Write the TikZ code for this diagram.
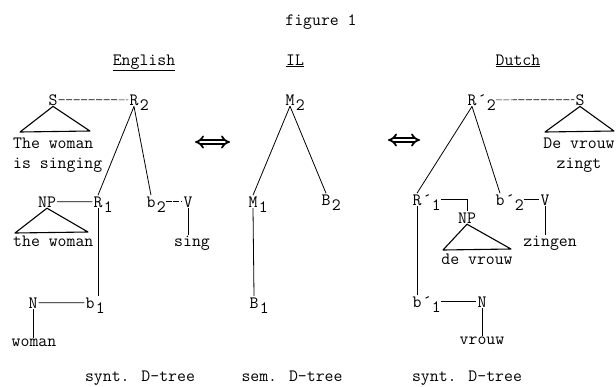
\documentclass[tikz,border=0pt]{standalone}
\usepackage{fontspec}
\usepackage{tikz}
\usetikzlibrary{arrows.meta}
\newcommand{\lo}[1]{\raisebox{-5pt}{#1}}
\tikzset{
  dt_n/.style = {inner sep=1pt, anchor=base,
    font=\ttfamily\fontsize{17.3}{20}\selectfont},% letter of a D-tree
  dt_i/.style = {dt_n, inner sep=0pt, anchor=base west},% index after a letter
  dt_w/.style = {dt_n, inner sep=0pt, align=left},% words
  dt_l/.style = {line width=0.8pt},
  dt_d/.style = {line width=0.6pt, dash pattern=on 6pt off 1.5pt},
  dt_tri/.style = {line width=1.1pt, line join=round},
  dt_eq/.style = {line width=1.8pt, double, double distance=2.4pt,
    {Implies}-{Implies}}
}
\begin{document}
\begin{tikzpicture}[x=1pt,y=-1pt]
  \useasboundingbox (0,0) rectangle (616,386);
  % titles
  \node[dt_n] (fig) at (321,25) {figure 1};
  \node[dt_n] (h_en) at (144,65) {\underline{English}};
  \node[dt_n] (h_il) at (295,65) {\underline{IL}};
  \node[dt_n] (h_du) at (518,65) {\underline{Dutch}};
  % English
  \node[dt_n] (S_e) at (53,105) {S};
  \node[dt_n] (R2_e) at (134,105) {R};
  \node[dt_i] (R2_ei) at (R2_e.base east) {\lo{2}};
  % base of a two-line node is on its last line
  \node[dt_w, anchor=base west] (S_ew) at (13,168) {The woman\\is singing};
  \coordinate (S_el) at (20,132);
  \coordinate (S_er) at (90,131);
  \node[dt_n] (R1_e) at (98,207) {R};
  \node[dt_i] (R1_ei) at (R1_e.base east) {\lo{1}};
  \node[dt_n] (b2_e) at (151,207) {b};
  \node[dt_i] (b2_ei) at (b2_e.base east) {\lo{2}};
  \node[dt_n] (V_e) at (188,207) {V};
  \node[dt_w] (V_ew) at (192,246) {sing};
  \node[dt_n] (NP_e) at (47,207) {NP};
  \coordinate (NP_el) at (15,233);
  \coordinate (NP_er) at (88,232);
  \node[dt_w, anchor=base west] (NP_ew) at (13,246) {the woman};
  \node[dt_n] (b1_e) at (90,308) {b};
  \node[dt_i] (b1_ei) at (b1_e.base east) {\lo{1}};
  \node[dt_n] (N_e) at (33,308) {N};
  \node[dt_w] (N_ew) at (34,346) {woman};
  \node[dt_w] (t_en) at (140,381) {synt. D-tree};
  \draw[dt_d] (S_e) -- (R2_e);
  \draw[dt_tri] (S_e.south) -- (S_el) -- (S_er) -- cycle;
  \draw[dt_l] (R2_e.south) -- (R1_e.north);
  \draw[dt_l] (R2_e.south) -- (b2_e.north);
  \draw[dt_d] (b2_ei.east |- V_e.west) -- (V_e.west);
  \draw[dt_l] (V_e.south) -- (V_e.south |- V_ew.north);
  \draw[dt_l] (NP_e) -- (R1_e);
  \draw[dt_tri] (NP_e.south) -- (NP_el) -- (NP_er) -- cycle;
  \draw[dt_l] (R1_e.south) -- (R1_e.south |- b1_e.north);
  \draw[dt_l] (N_e) -- (b1_e);
  \draw[dt_l] (N_e.south) -- (N_e.south |- N_ew.north);
  % IL
  \node[dt_n] (M2_il) at (290,105) {M};
  \node[dt_i] (M2_ili) at (M2_il.base east) {\lo{2}};
  \node[dt_n] (M1_il) at (253,207) {M};
  \node[dt_i] (M1_ili) at (M1_il.base east) {\lo{1}};
  \node[dt_n] (B2_il) at (326,205) {B};
  \node[dt_i] (B2_ili) at (B2_il.base east) {\lo{2}};
  \node[dt_n] (B1_il) at (254,308) {B};
  \node[dt_i] (B1_ili) at (B1_il.base east) {\lo{1}};
  \node[dt_w] (t_il) at (292,381) {sem. D-tree};
  \draw[dt_l] (M2_il.south) -- (M1_il.north);
  \draw[dt_l] (M2_il.south) -- (B2_il.north);
  \draw[dt_l] (M1_il.south) -- (B1_il.north);
  % translation arrows
  \coordinate (eq1_l) at (195,142);
  \coordinate (eq1_r) at (230,142);
  \coordinate (eq2_l) at (388,140);
  \coordinate (eq2_r) at (420,140);
  \draw[dt_eq] (eq1_l) -- (eq1_r);
  \draw[dt_eq] (eq2_l) -- (eq2_r);
  % Dutch
  \node[dt_n] (R2_d) at (472,105) {R};
  \node[dt_i] (R2_di) at (R2_d.base east) {´\lo{2}};
  \node[dt_n] (S_d) at (580,105) {S};
  \node[dt_w, align=center] (S_dw) at (579,168) {De vrouw\\zingt};
  \coordinate (S_dl) at (545,132);
  \coordinate (S_dr) at (614,131);
  \node[dt_n] (R1_d) at (417,205) {R};
  \node[dt_i] (R1_di) at (R1_d.base east) {´\lo{1}};
  \node[dt_n] (NP_d) at (467,223) {NP};
  \coordinate (NP_dl) at (443,250);
  \coordinate (NP_dr) at (511,249);
  \node[dt_w] (NP_dw) at (477,264) {de vrouw};
  \node[dt_n] (b1_d) at (417,307) {b};
  \node[dt_i] (b1_di) at (b1_d.base east) {´\lo{1}};
  \node[dt_n] (N_d) at (482,307) {N};
  \node[dt_w] (N_dw) at (482,344) {vrouw};
  \node[dt_n] (b2_d) at (500,205) {b};
  \node[dt_i] (b2_di) at (b2_d.base east) {´\lo{2}};
  \node[dt_n] (V_d) at (545,205) {V};
  \node[dt_w] (V_dw) at (550,246) {zingen};
  \node[dt_w] (t_du) at (467,381) {synt. D-tree};
  \draw[dt_d] (R2_di.east |- R2_d.east) -- (S_d);
  \draw[dt_tri] (S_d.south) -- (S_dl) -- (S_dr) -- cycle;
  \draw[dt_l] (R2_d.south) -- (R1_d.north);
  \draw[dt_l] (R2_d.south) -- (b2_d.north);
  \draw[dt_l] (R1_di.east |- R1_d.east) -| (NP_d.north);
  \draw[dt_tri] (NP_d.south) -- (NP_dl) -- (NP_dr) -- cycle;
  \draw[dt_l] (R1_d.south) -- (R1_d.south |- b1_d.north);
  \draw[dt_l] (b1_di.east |- N_d.west) -- (N_d.west);
  \draw[dt_l] (N_d.south) -- (N_d.south |- N_dw.north);
  \draw[dt_l] (b2_di.east |- V_d.west) -- (V_d.west);
  \draw[dt_l] (V_d.south) -- (V_d.south |- V_dw.north);
\end{tikzpicture}
\end{document}
